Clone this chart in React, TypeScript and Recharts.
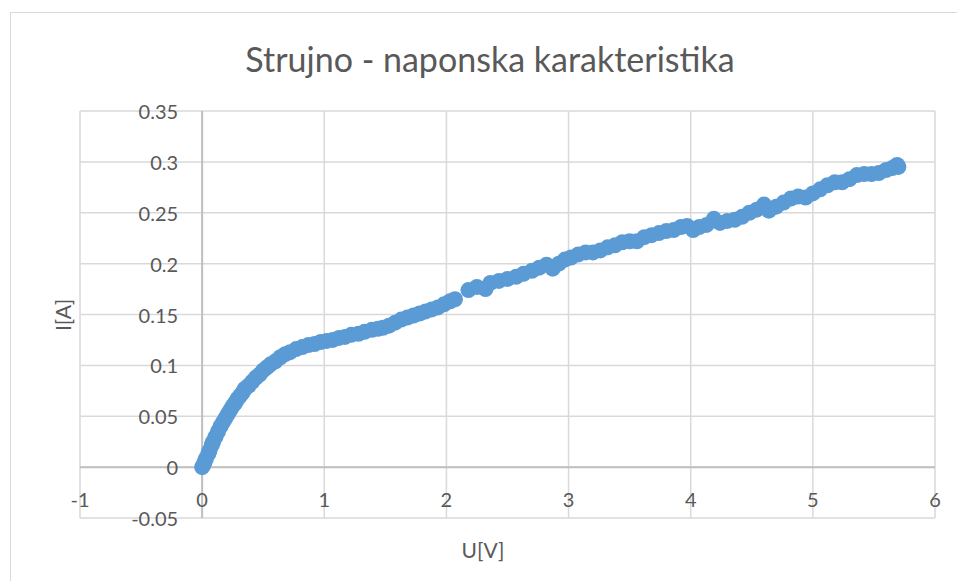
import { ScatterChart, Scatter, XAxis, YAxis, CartesianGrid, ReferenceLine } from 'recharts';

// measured U[V] / I[A] points
const voltage = [
  0, 0.01, 0.02, 0.03, 0.05, 0.06, 0.08, 0.09, 0.11, 0.13, 0.15, 0.17, 0.19, 0.21, 0.23, 0.25,
  0.27, 0.29, 0.31, 0.33, 0.35, 0.38, 0.41, 0.44, 0.47, 0.5, 0.53, 0.56, 0.6, 0.64, 0.68, 0.72,
  0.77, 0.82, 0.87, 0.92, 0.97, 1.02, 1.07, 1.12, 1.17, 1.22, 1.28, 1.33, 1.39, 1.44, 1.48, 1.53,
  1.58, 1.63, 1.68, 1.73, 1.78, 1.83, 1.88, 1.93, 1.98, 2.03, 2.07,
  2.18, 2.25, 2.32, 2.36, 2.43, 2.5, 2.57, 2.63, 2.7, 2.76, 2.82, 2.87, 2.92, 2.97, 3.02, 3.08,
  3.14, 3.2, 3.26, 3.32, 3.38, 3.44, 3.5, 3.56, 3.62, 3.68, 3.74, 3.8, 3.86, 3.92, 3.97, 4.02,
  4.07, 4.13, 4.19, 4.24, 4.3, 4.36, 4.42, 4.48, 4.54, 4.6, 4.64, 4.7, 4.76, 4.82, 4.88, 4.94,
  5.0, 5.06, 5.12, 5.18, 5.24, 5.3, 5.36, 5.42, 5.48, 5.54, 5.6, 5.65, 5.69, 5.7,
];
const current = [
  0, 0.002, 0.005, 0.008, 0.013, 0.016, 0.022, 0.025, 0.03, 0.035, 0.04, 0.044, 0.048, 0.052, 0.056, 0.06,
  0.063, 0.067, 0.07, 0.073, 0.077, 0.08, 0.084, 0.088, 0.091, 0.095, 0.098, 0.101, 0.104, 0.108, 0.111, 0.113,
  0.116, 0.118, 0.12, 0.121, 0.123, 0.124, 0.125, 0.127, 0.128, 0.13, 0.131, 0.133, 0.135, 0.136, 0.137, 0.139,
  0.142, 0.145, 0.147, 0.149, 0.151, 0.153, 0.155, 0.157, 0.16, 0.163, 0.165,
  0.174, 0.177, 0.175, 0.181, 0.183, 0.185, 0.187, 0.19, 0.193, 0.196, 0.199, 0.195, 0.2, 0.204, 0.206, 0.209,
  0.211, 0.211, 0.213, 0.216, 0.218, 0.221, 0.222, 0.222, 0.226, 0.228, 0.23, 0.232, 0.233, 0.236, 0.237, 0.233,
  0.236, 0.238, 0.244, 0.24, 0.242, 0.243, 0.246, 0.25, 0.253, 0.258, 0.252, 0.256, 0.26, 0.264, 0.266, 0.265,
  0.269, 0.273, 0.277, 0.28, 0.28, 0.283, 0.287, 0.288, 0.288, 0.289, 0.292, 0.294, 0.297, 0.295,
];
const xTicks = [-1, 0, 1, 2, 3, 4, 5, 6];
const yTicks = [-0.05, 0, 0.05, 0.1, 0.15, 0.2, 0.25, 0.3, 0.35];

const W = 957;
const H = 581;
const AXIS_SIZE = 1;
const M = { top: 111, right: 22, bottom: 63 - AXIS_SIZE, left: 80 - AXIS_SIZE };
const PLOT_W = W - 80 - 22;
const PLOT_H = H - 111 - 63;
const X_DOMAIN: [number, number] = [-1, 6];
const Y_DOMAIN: [number, number] = [-0.05, 0.35];
// where the axes cross (value 0 on each)
const ZERO_X = 80 + (PLOT_W * (0 - X_DOMAIN[0])) / (X_DOMAIN[1] - X_DOMAIN[0]);
const ZERO_Y = 111 + (PLOT_H * (Y_DOMAIN[1] - 0)) / (Y_DOMAIN[1] - Y_DOMAIN[0]);

const FONT = 'Lato, "Open Sans", sans-serif';
const TEXT = '#595959';
const BLUE = '#5b9bd5';

const data = voltage.map((u, i) => ({ u, i: current[i] }));

const renderXTick = ({ x, payload }: any) => (
  <text x={x} y={ZERO_Y + 32} textAnchor="middle" dominantBaseline="central" fill={TEXT} fontSize={20} fontFamily={FONT}>
    {payload.value}
  </text>
);

const renderYTick = ({ y, payload }: any) => (
  <text x={ZERO_X - 24} y={y} textAnchor="end" dominantBaseline="central" fill={TEXT} fontSize={20} fontFamily={FONT}>
    {payload.value}
  </text>
);

const renderDot = ({ cx, cy }: any) => <circle cx={cx} cy={cy} r={8} fill={BLUE} />;

export default function App() {
  return (
    <div style={{ position: 'relative', width: W, height: H, overflow: 'hidden', background: '#fff' }}>
      <style>{'body{margin:0}'}</style>
      <div style={{ position: 'absolute', left: 10, top: 12, width: 1000, height: 1000, border: '1px solid #d9d9d9' }} />
      <div style={{ position: 'absolute', left: 0, top: 0 }}>
        <ScatterChart width={W} height={H} margin={M}>
          <text x={490} y={58} textAnchor="middle" dominantBaseline="central" fill={TEXT} fontSize={34} fontFamily={FONT}>
            Strujno - naponska karakteristika
          </text>
          <text
            x={62}
            y={315}
            textAnchor="middle"
            dominantBaseline="central"
            fill={TEXT}
            fontSize={21}
            fontFamily={FONT}
            transform="rotate(-90 62 315)"
          >
            I[A]
          </text>
          <text x={483} y={549} textAnchor="middle" dominantBaseline="central" fill={TEXT} fontSize={21} fontFamily={FONT}>
            U[V]
          </text>
          <CartesianGrid stroke="#d9d9d9" strokeWidth={1.5} />
          <XAxis
            type="number"
            dataKey="u"
            domain={X_DOMAIN}
            ticks={xTicks}
            interval={0}
            height={AXIS_SIZE}
            axisLine={false}
            tickLine={false}
            tick={renderXTick}
            allowDataOverflow
          />
          <YAxis
            type="number"
            dataKey="i"
            domain={Y_DOMAIN}
            ticks={yTicks}
            interval={0}
            width={AXIS_SIZE}
            axisLine={false}
            tickLine={false}
            tick={renderYTick}
            allowDataOverflow
          />
          <ReferenceLine x={0} stroke="#bfbfbf" strokeWidth={2} />
          <ReferenceLine y={0} stroke="#bfbfbf" strokeWidth={2} />
          <Scatter data={data} fill={BLUE} shape={renderDot} isAnimationActive={false} />
        </ScatterChart>
      </div>
    </div>
  );
}
